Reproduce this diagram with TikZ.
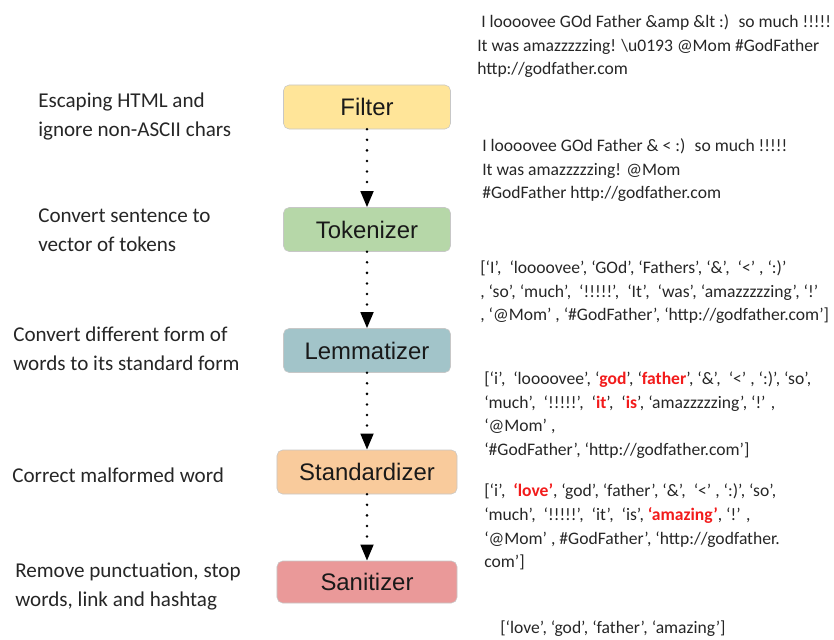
\documentclass[tikz,border=0pt]{standalone}
\usepackage{fontspec}
\setmainfont{Carlito}
\newfontfamily\boxfont{Liberation Sans}
\usetikzlibrary{arrows.meta}
\definecolor{filterfill}{HTML}{FFE599}
\definecolor{tokenfill}{HTML}{B6D7A8}
\definecolor{lemmafill}{HTML}{A2C4C9}
\definecolor{standfill}{HTML}{F9CB9C}
\definecolor{sanifill}{HTML}{EA9999}
\definecolor{hlred}{HTML}{F21B1B}
\tikzset{
	stepbox/.style={draw=black!22, rounded corners=4pt, minimum height=1.1cm, inner sep=0pt, text=black!90, font=\boxfont\fontsize{17}{20}\selectfont},
	flow/.style={line width=2pt, dash pattern=on 0pt off 7.5pt, line cap=round, -{Triangle[length=11.5pt,width=9pt]}},
	note/.style={anchor=north west, inner sep=0pt, align=left, text=black!85, font=\fontsize{12.5}{17}\selectfont},
	desc/.style={anchor=north west, inner sep=0pt, align=left, text=black!85, font=\fontsize{15}{20}\selectfont}
}
\begin{document}
\begin{tikzpicture}[x=0.025cm, y=-0.025cm]
				\newcommand{\myhl}[1]{\textcolor{hlred}{\textbf{#1}}}
				\useasboundingbox (0,0) rectangle (834,639);
				%The pipeline boxes
				\coordinate (cFilter) at (367,107);
				\coordinate (cTokenizer) at (367,229.5);
				\coordinate (cLemmatizer) at (367,350.5);
				\coordinate (cStandardizer) at (367,472);
				\coordinate (cSanitizer) at (367,582);
				\node [stepbox, fill=filterfill, minimum width=4.175cm] (filter) at (cFilter) {Filter};
				\node [stepbox, fill=tokenfill, minimum width=4.175cm] (tokenizer) at (cTokenizer) {Tokenizer};
				\node [stepbox, fill=lemmafill, minimum width=4.175cm] (lemmatizer) at (cLemmatizer) {Lemmatizer};
				\node [stepbox, fill=standfill, minimum width=4.5cm] (standardizer) at (cStandardizer) {Standardizer};
				\node [stepbox, fill=sanifill, minimum width=4.5cm, minimum height=1.05cm] (sanitizer) at (cSanitizer) {Sanitizer};
				%Dotted arrows between the steps
				\draw [flow] (filter) -- (tokenizer);
				\draw [flow] (tokenizer) -- (lemmatizer);
				\draw [flow] (lemmatizer) -- (standardizer);
				\draw [flow] (standardizer) -- (sanitizer);
				%What each step does
				\coordinate (d0) at (38,93);
				\coordinate (d1) at (38,209);
				\coordinate (d2) at (13,327);
				\coordinate (d3) at (12,468);
				\coordinate (d4) at (15,563);
				\node [desc] (descFilter) at (d0) {Escaping HTML and\\ignore non-ASCII chars};
				\node [desc] (descTokenizer) at (d1) {Convert sentence to\\vector of tokens};
				\node [desc] (descLemmatizer) at (d2) {Convert different form of\\words to its standard form};
				\node [desc] (descStandardizer) at (d3) {Correct malformed word};
				\node [desc] (descSanitizer) at (d4) {Remove punctuation, stop\\words, link and hashtag};
				%The tweet after each step
				\coordinate (t0) at (477,14);
				\coordinate (t1) at (482,138);
				\coordinate (t2) at (480,260);
				\coordinate (t3) at (484,371);
				\coordinate (t4) at (484,483);
				\coordinate (t5) at (500,621);
				\node [note] (tweetRaw) at (t0) {\ I loooovee GOd Father \&amp \&lt :)~ so much !!!!!\\It was amazzzzzing! \textbackslash u0193 @Mom \#GodFather\\http://godfather.com};
				\node [note] (tweetFiltered) at (t1) {I loooovee GOd Father \& < :)~ so much !!!!!\\It was amazzzzzing! @Mom\\\#GodFather http://godfather.com};
				\node [note] (tweetTokens) at (t2) {[‘I’,~ ‘loooovee’, ‘GOd’, ‘Fathers’, ‘\&’,~ ‘<’ , ‘:)’\\, ‘so’, ‘much’,~ ‘!!!!!’,~ ‘It’,~ ‘was’, ‘amazzzzzing’, ‘!’\\, ‘@Mom’ , ‘\#GodFather’, ‘http://godfather.com’]};
				\node [note] (tweetLemmas) at (t3) {[‘i’,~ ‘loooovee’, ‘\myhl{god}’, ‘\myhl{father}’, ‘\&’,~ ‘<’ , ‘:)’, ‘so’,\\‘much’,~ ‘!!!!!’,~ ‘\myhl{it}’,~ ‘\myhl{is}’, ‘amazzzzzing’, ‘!’ ,\\‘@Mom’ ,\\‘\#GodFather’, ‘http://godfather.com’]};
				\node [note] (tweetStandard) at (t4) {[‘i’,~ \myhl{‘love’}, ‘god’, ‘father’, ‘\&’,~ ‘<’ , ‘:)’, ‘so’,\\‘much’,~ ‘!!!!!’,~ ‘it’,~ ‘is’, \myhl{‘amazing’}, ‘!’ ,\\‘@Mom’ , \#GodFather’, ‘http://godfather.\\com’]};
				\node [note] (tweetClean) at (t5) {[‘love’, ‘god’, ‘father’, ‘amazing’]};
\end{tikzpicture}
\end{document}
